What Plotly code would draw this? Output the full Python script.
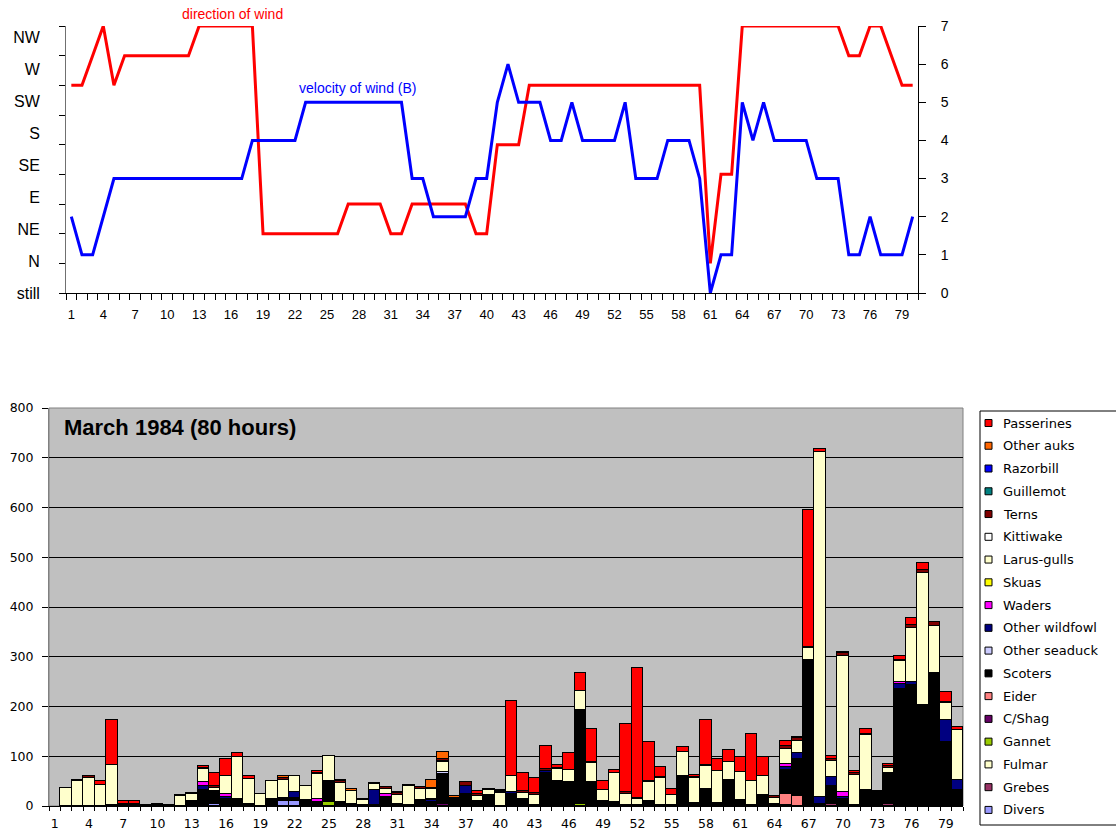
import plotly.graph_objects as go

W, H = 1116, 831

hours = list(range(1, 81))
hour_ticks = hours[::3]

# ---- top chart: wind ----
direction_labels = ["still", "N", "NE", "E", "SE", "S", "SW", "W", "NW"]
# index into the direction scale (9 = N again, top of the scale)
wind_direction = [7, 7, 8, 9, 7, 8, 8, 8, 8, 8, 8, 8, 9, 9, 9, 9, 9, 9, 2, 2,
                  2, 2, 2, 2, 2, 2, 3, 3, 3, 3, 2, 2, 3, 3, 3, 3, 3, 3, 2, 2,
                  5, 5, 5, 7, 7, 7, 7, 7, 7, 7, 7, 7, 7, 7, 7, 7, 7, 7, 7, 7,
                  1, 4, 4, 9, 9, 9, 9, 9, 9, 9, 9, 9, 9, 8, 8, 9, 9, 8, 7, 7]
# Beaufort
wind_velocity = [2, 1, 1, 2, 3, 3, 3, 3, 3, 3, 3, 3, 3, 3, 3, 3, 3, 4, 4, 4,
                 4, 4, 5, 5, 5, 5, 5, 5, 5, 5, 5, 5, 3, 3, 2, 2, 2, 2, 3, 3,
                 5, 6, 5, 5, 5, 4, 4, 5, 4, 4, 4, 4, 5, 3, 3, 3, 4, 4, 4, 3,
                 0, 1, 1, 5, 4, 5, 4, 4, 4, 4, 3, 3, 3, 1, 1, 2, 1, 1, 1, 2]

# ---- bottom chart: birds per hour, stacked bottom -> top ----
species = ["Divers", "Grebes", "Fulmar", "Gannet", "C/Shag", "Eider", "Scoters",
           "Other seaduck", "Other wildfowl", "Waders", "Skuas", "Larus-gulls",
           "Kittiwake", "Terns", "Guillemot", "Razorbill", "Other auks", "Passerines"]
colours = ["#9999FF", "#993366", "#FFFFCC", "#99CC00", "#660066", "#FF8080", "#000000",
           "#CCCCFF", "#000080", "#FF00FF", "#FFFF00", "#FFFFCC",
           "#FFFFFF", "#800000", "#008080", "#0000FF", "#FF6600", "#FF0000"]

divers = [0, 0, 0, 0, 0, 0, 0, 0, 0, 0, 0, 0, 0, 0, 5, 0, 0, 0, 0, 0,
          11, 10, 0, 0, 0, 0, 0, 0, 0, 0, 0, 0, 0, 0, 0, 0, 0, 0, 0, 0,
          0, 0, 0, 0, 0, 0, 0, 0, 0, 0, 0, 0, 0, 0, 0, 0, 0, 0, 0, 0,
          0, 0, 0, 0, 0, 0, 0, 0, 0, 0, 0, 0, 0, 0, 0, 0, 0, 0, 0, 0]
grebes = [0, 0, 0, 0, 0, 0, 0, 0, 0, 0, 0, 0, 0, 0, 0, 0, 0, 0, 0, 0,
          0, 0, 0, 0, 0, 0, 0, 0, 0, 0, 0, 0, 0, 0, 0, 3, 0, 0, 0, 0,
          0, 0, 0, 0, 0, 0, 0, 0, 0, 0, 0, 0, 0, 0, 0, 0, 0, 0, 0, 0,
          0, 0, 0, 0, 0, 0, 0, 0, 4, 0, 0, 0, 0, 4, 0, 0, 0, 0, 0, 0]
fulmar = [0, 0, 0, 0, 0, 0, 0, 0, 0, 0, 0, 0, 0, 0, 0, 0, 0, 0, 0, 0,
          0, 0, 0, 0, 0, 0, 0, 0, 0, 0, 0, 0, 0, 0, 0, 0, 0, 0, 0, 26,
          0, 0, 0, 0, 0, 0, 0, 0, 0, 0, 0, 0, 0, 0, 0, 0, 0, 0, 0, 0,
          0, 0, 0, 0, 0, 0, 0, 0, 0, 0, 0, 0, 0, 0, 0, 0, 0, 0, 0, 0]
gannet = [0, 0, 0, 0, 0, 0, 0, 0, 0, 0, 0, 0, 0, 0, 0, 0, 0, 0, 0, 0,
          0, 0, 0, 0, 8, 0, 0, 0, 0, 0, 0, 0, 0, 0, 0, 0, 0, 0, 0, 0,
          0, 0, 0, 0, 0, 0, 4, 0, 0, 0, 0, 0, 0, 0, 0, 0, 0, 0, 0, 0,
          0, 0, 0, 0, 3, 0, 0, 0, 0, 0, 0, 0, 0, 0, 0, 0, 0, 0, 0, 0]
c_shag = [0, 0, 0, 0, 0, 0, 0, 0, 0, 0, 0, 0, 0, 0, 0, 0, 0, 0, 0, 0,
          0, 0, 0, 0, 0, 0, 0, 0, 0, 0, 0, 0, 0, 0, 4, 0, 0, 0, 0, 0,
          0, 0, 0, 0, 0, 0, 0, 0, 0, 0, 0, 0, 0, 0, 0, 0, 0, 0, 0, 0,
          3, 0, 0, 0, 0, 0, 0, 0, 0, 3, 0, 0, 0, 0, 0, 0, 0, 0, 0, 0]
eider = [0, 0, 0, 0, 0, 0, 0, 0, 0, 0, 0, 0, 0, 0, 0, 0, 0, 0, 0, 0,
         0, 0, 0, 0, 0, 0, 0, 0, 0, 0, 0, 0, 0, 0, 0, 0, 0, 0, 0, 0,
         0, 0, 0, 0, 0, 0, 0, 0, 0, 0, 0, 0, 0, 0, 0, 0, 0, 0, 0, 0,
         0, 0, 0, 0, 22, 20, 0, 0, 0, 0, 0, 0, 0, 0, 0, 0, 0, 0, 0, 0]
scoters = [0, 0, 0, 0, 0, 3, 4, 4, 2, 3, 2, 0, 10, 33, 26, 15, 14, 5, 0, 15,
           6, 7, 12, 8, 42, 8, 4, 3, 2, 19, 5, 2, 13, 8, 60, 12, 24, 11, 20, 6,
           25, 15, 3, 67, 50, 48, 188, 48, 10, 9, 2, 2, 10, 3, 2, 60, 7, 35, 7, 53,
           9, 2, 23, 5, 48, 75, 293, 4, 37, 12, 3, 32, 30, 63, 235, 243, 204, 268, 129, 32]
other_seaduck = [0, 0, 0, 0, 0, 0, 0, 0, 0, 0, 0, 0, 0, 0, 0, 0, 0, 0, 0, 0,
                 0, 0, 0, 0, 0, 0, 0, 0, 0, 0, 0, 0, 0, 0, 5, 0, 0, 0, 0, 0,
                 0, 0, 0, 0, 0, 0, 0, 0, 0, 0, 0, 0, 0, 0, 0, 0, 0, 0, 0, 0,
                 0, 0, 0, 0, 0, 0, 0, 0, 0, 0, 0, 0, 0, 0, 0, 0, 0, 0, 0, 0]
other_wildfowl = [0, 0, 0, 0, 0, 0, 0, 0, 0, 0, 0, 0, 0, 8, 0, 3, 0, 0, 0, 0,
                  0, 11, 0, 0, 0, 0, 0, 0, 30, 0, 0, 0, 0, 4, 0, 0, 17, 0, 2, 0,
                  3, 0, 0, 3, 0, 0, 0, 0, 0, 0, 0, 0, 0, 0, 0, 0, 0, 0, 0, 0,
                  0, 0, 0, 0, 5, 12, 0, 15, 18, 3, 0, 0, 0, 0, 11, 6, 0, 0, 44, 20]
waders = [0, 0, 0, 0, 0, 0, 0, 0, 0, 0, 0, 0, 0, 8, 0, 7, 0, 0, 0, 0,
          0, 0, 0, 6, 0, 0, 0, 0, 0, 5, 0, 0, 0, 2, 0, 0, 0, 0, 0, 0,
          0, 0, 0, 0, 0, 0, 0, 0, 0, 0, 0, 0, 0, 0, 0, 0, 0, 0, 0, 0,
          0, 0, 0, 0, 7, 0, 0, 0, 0, 10, 0, 0, 0, 0, 3, 0, 0, 0, 0, 0]
skuas = [0] * 80
larus_gulls = [0, 36, 50, 57, 42, 80, 0, 0, 0, 0, 0, 21, 15, 25, 5, 36, 85, 50, 25, 35,
               36, 33, 28, 50, 50, 38, 26, 9, 12, 11, 17, 38, 22, 21, 20, 0, 0, 10, 10, 0,
               33, 12, 20, 0, 25, 24, 40, 39, 22, 57, 22, 12, 38, 53, 21, 49, 50, 45, 64, 35,
               56, 48, 38, 11, 30, 24, 24, 693, 31, 274, 60, 111, 0, 10, 42, 108, 264, 94, 35, 100]
kittiwake = [0, 0, 0, 0, 0, 0, 0, 0, 0, 0, 0, 0, 0, 0, 0, 0, 0, 0, 0, 0,
             0, 0, 0, 0, 0, 0, 0, 0, 0, 0, 0, 0, 0, 0, 2, 0, 0, 0, 0, 0,
             0, 0, 0, 0, 0, 0, 0, 0, 0, 0, 0, 0, 0, 0, 0, 0, 0, 0, 0, 0,
             0, 0, 0, 0, 0, 0, 0, 0, 0, 0, 0, 0, 0, 0, 0, 0, 0, 0, 0, 0]
terns = [0, 0, 2, 3, 0, 0, 0, 0, 0, 0, 0, 2, 2, 3, 4, 0, 0, 0, 0, 0,
         4, 0, 0, 2, 0, 4, 0, 3, 3, 3, 4, 2, 4, 2, 3, 2, 7, 4, 3, 0,
         0, 3, 3, 4, 1, 0, 0, 2, 0, 0, 5, 3, 2, 2, 0, 0, 2, 3, 0, 0,
         0, 0, 0, 4, 5, 5, 3, 0, 5, 5, 3, 2, 0, 3, 3, 7, 7, 8, 2, 0]
guillemot = [0] * 80
razorbill = [0] * 80
other_auks = [0, 0, 0, 0, 0, 0, 0, 0, 0, 0, 0, 0, 0, 0, 0, 0, 0, 0, 0, 0,
              3, 0, 0, 0, 0, 3, 4, 0, 0, 0, 2, 0, 0, 16, 15, 4, 0, 0, 0, 0,
              0, 0, 0, 0, 0, 0, 0, 0, 0, 0, 0, 0, 0, 0, 0, 0, 0, 0, 0, 0,
              0, 0, 0, 0, 0, 0, 0, 0, 0, 0, 0, 0, 0, 0, 0, 0, 0, 0, 0, 0]
passerines = [0, 0, 0, 0, 8, 89, 7, 7, 0, 2, 0, 0, 0, 3, 27, 33, 7, 6, 0, 0,
              0, 0, 0, 5, 0, 0, 0, 0, 0, 0, 0, 0, 0, 0, 0, 0, 0, 5, 0, 0,
              151, 37, 31, 47, 7, 35, 36, 66, 18, 7, 136, 260, 79, 21, 12, 10, 3, 90, 24, 24,
              31, 95, 38, 0, 10, 3, 275, 5, 5, 2, 5, 10, 0, 5, 7, 14, 13, 0, 19, 6]

counts = [divers, grebes, fulmar, gannet, c_shag, eider, scoters, other_seaduck,
          other_wildfowl, waders, skuas, larus_gulls, kittiwake, terns, guillemot,
          razorbill, other_auks, passerines]


def px(x):
    return x / W


def py(y):
    return 1 - y / H


ARIAL = "Liberation Sans, Arial, sans-serif"
WIDE = "DejaVu Sans, Verdana, sans-serif"

fig = go.Figure()

fig.add_trace(go.Scatter(x=hours, y=wind_direction, mode="lines", name="direction of wind",
                         line=dict(color="#FF0000", width=3), xaxis="x", yaxis="y"))
fig.add_trace(go.Scatter(x=hours, y=wind_velocity, mode="lines", name="velocity of wind (B)",
                         line=dict(color="#0000FF", width=3), xaxis="x", yaxis="y2"))

for name, colour, vals in zip(species, colours, counts):
    fig.add_trace(go.Bar(
        x=hours, y=[v if v else None for v in vals], name=name,
        marker=dict(color=colour, line=dict(color="black", width=1)),
        xaxis="x2", yaxis="y3",
    ))

# plot area of the bird chart
shapes = [dict(type="rect", xref="x2 domain", yref="y3 domain", x0=0, x1=1, y0=0, y1=1,
               fillcolor="#C0C0C0", line=dict(color="#808080", width=1), layer="below")]


def label(text, x, y, size, colour="black", family=ARIAL, xanchor="center"):
    return dict(text=text, x=px(x), y=py(y), xref="paper", yref="paper",
                xanchor=xanchor, yanchor="middle", showarrow=False,
                font=dict(family=family, size=size, color=colour))


annotations = [
    label("direction of wind", 232, 14, 14, "#FF0000"),
    label("velocity of wind (B)", 358, 88, 14, "#0000FF"),
    label("<b>March 1984 (80 hours)</b>", 62, 427, 22, xanchor="left"),
]

# legend drawn by hand to get the Excel look (top entry = top of stack)
shapes.append(dict(type="rect", xref="paper", yref="paper", x0=px(980), x1=px(1125),
                   y0=py(825), y1=py(411), line=dict(color="black", width=1), fillcolor="white"))
for k, (name, colour) in enumerate(zip(species[::-1], colours[::-1])):
    yc = 423 + k * 22.76
    shapes.append(dict(type="rect", xref="paper", yref="paper",
                       x0=px(985), x1=px(992), y0=py(yc + 3.5), y1=py(yc - 3.5),
                       fillcolor=colour, line=dict(color="black", width=1)))
    annotations.append(label(name, 1001, yc, 13, family=WIDE, xanchor="left"))

fig.update_layout(
    width=W, height=H,
    margin=dict(l=0, r=0, t=0, b=0, autoexpand=False),
    paper_bgcolor="white", plot_bgcolor="white",
    showlegend=False,
    barmode="stack", bargap=0,
    font=dict(family=ARIAL, color="black"),
    shapes=shapes,
    annotations=annotations,
    xaxis=dict(
        domain=[px(66), px(918)], anchor="y", range=[0.5, 80.5], automargin=False,
        tickvals=hour_ticks, ticks="", ticklabelstandoff=9,
        showline=True, linecolor="black", showgrid=False, zeroline=False,
        tickfont=dict(size=13),
        minor=dict(tickmode="array", tickvals=[h - 0.5 for h in hours] + [80.5],
                   ticks="outside", ticklen=6, tickcolor="black"),
    ),
    yaxis=dict(
        domain=[py(293), py(26)], anchor="x", range=[0, 9], automargin=False,
        tickvals=[k * 1.075 for k in range(len(direction_labels))], ticktext=direction_labels,
        ticks="", ticklabelstandoff=22,
        showline=True, linecolor="#707070", showgrid=False, zeroline=False,
        tickfont=dict(size=16),
        minor=dict(tickmode="array", tickvals=list(range(10)),
                   ticks="outside", ticklen=6, tickcolor="black"),
    ),
    yaxis2=dict(
        overlaying="y", side="right", anchor="x", range=[0, 7], dtick=1, automargin=False,
        ticks="outside", ticklen=7, tickcolor="black", tickwidth=1, ticklabelstandoff=12,
        showline=True, linecolor="black", showgrid=False, zeroline=False,
        tickfont=dict(size=14),
    ),
    xaxis2=dict(
        domain=[px(49), px(963)], anchor="y3", range=[0.5, 80.5], automargin=False,
        tickvals=hour_ticks, ticks="", ticklabelstandoff=6,
        showline=True, linecolor="black", showgrid=False, zeroline=False,
        tickfont=dict(family=WIDE, size=12.5),
        minor=dict(tickmode="array", tickvals=[h - 0.5 for h in hours] + [80.5],
                   ticks="outside", ticklen=4, tickcolor="black"),
    ),
    yaxis3=dict(
        domain=[py(806), py(408)], anchor="x2", range=[0, 800], dtick=100, automargin=False,
        ticks="outside", ticklen=6, tickcolor="black", ticklabelstandoff=6,
        showline=True, linecolor="#808080", showgrid=True, gridcolor="black", gridwidth=1,
        zeroline=False,
        tickfont=dict(family=WIDE, size=12.5),
    ),
)

# the page's default body margin would push the figure out of the window
fig.write_html("out.html", config={"displayModeBar": False},
               post_script="document.body.style.margin = '0';")
